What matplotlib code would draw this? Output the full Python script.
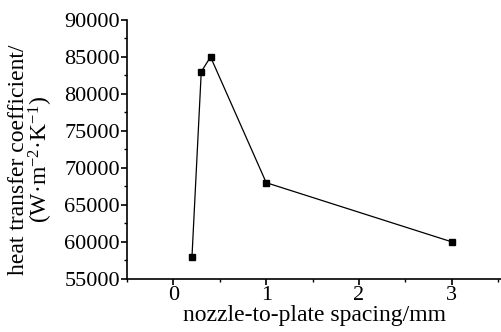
import matplotlib.pyplot as plt
from matplotlib.ticker import MultipleLocator

plt.rcParams['font.family'] = ['Liberation Serif', 'DejaVu Serif']
plt.rcParams['mathtext.fontset'] = 'custom'
plt.rcParams['mathtext.rm'] = 'Liberation Serif'
plt.rcParams['mathtext.it'] = 'Liberation Serif:italic'

spacing = [0.2, 0.3, 0.4, 1.0, 3.0]
htc = [58000, 83000, 85000, 68000, 60000]
x_ticks = [0, 1, 2, 3]
y_ticks = [55000, 60000, 65000, 70000, 75000, 80000, 85000, 90000]

fig = plt.figure(figsize=(5.02, 3.32), dpi=100)
ax = fig.add_axes([0.253, 0.16, 0.747, 0.78])
ax.plot(spacing, htc, '-', color='black', lw=0.9, marker='s', ms=4.5)

ax.set_xlim(-0.5, 3.54)
ax.set_ylim(55000, 90000)
ax.set_xticks(x_ticks)
ax.set_yticks(y_ticks)
ax.xaxis.set_minor_locator(MultipleLocator(0.5))
ax.yaxis.set_minor_locator(MultipleLocator(2500))
ax.spines['top'].set_visible(False)
ax.spines['right'].set_visible(False)
for s in ['left', 'bottom']:
    ax.spines[s].set_linewidth(1.2)
ax.tick_params(which='major', direction='out', length=4, width=1.2, labelsize=16, pad=1)
ax.tick_params(which='minor', direction='out', length=2.5, width=1.0)

ax.set_xlabel('nozzle-to-plate spacing/mm', fontsize=17, labelpad=0)
ax.set_ylabel('heat transfer coefficient/\n(W·m$^{-2}$·K$^{-1}$)', fontsize=17,
              linespacing=0.9)
ax.yaxis.set_label_coords(-0.193, 0.46)

fig.savefig('out.png', dpi=100)
